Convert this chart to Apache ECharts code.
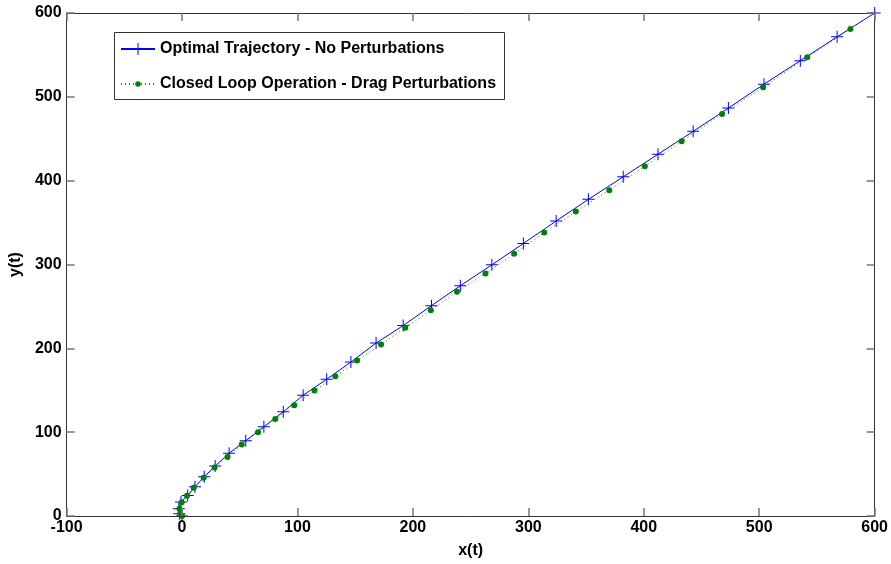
<!DOCTYPE html>
<html><head><meta charset="utf-8">
<script src="https://cdn.jsdelivr.net/npm/echarts@6/dist/echarts.min.js"></script>
<style>html,body{margin:0;padding:0;background:#fff}#c{width:891px;height:564px}</style>
</head><body><div id="c"></div>
<script>
const xTicks = [-100, 0, 100, 200, 300, 400, 500, 600];
const yTicks = [0, 100, 200, 300, 400, 500, 600];
const seriesNames = ['Optimal Trajectory - No Perturbations', 'Closed Loop Operation - Drag Perturbations'];
const blueX = [0,-2.3,-2.8,-0.9,4.9,11.2,19.2,28.7,40.8,55.2,70.9,87.7,104.9,125.3,146.3,168.1,191.6,216.1,241.1,268.4,295.7,324.1,352,382.2,412.3,442.8,473.3,504.1,535.6,567.5,600];
const blueY = [0,2.7,8.7,16.6,24.6,34.8,46.7,59.7,74.8,89.9,106.5,124.3,144.1,163.1,183.7,206.3,227.2,250.9,274.7,299.6,325.1,351.9,377.7,404.6,431.5,458.8,486.6,515.1,543.1,571.6,600];
const greenX = [0,-1.7,-2.3,-0.3,4.3,10.1,18.7,28.2,39.4,51.7,65.8,80.8,97.2,114.7,132.8,151.7,172.4,193.4,215.5,238.2,262.9,287.7,313.8,341.1,370.1,400.9,432.8,467.8,503.4,541.6,579];
const greenY = [0,2.4,8.7,16.3,24.1,33.6,45.5,57.8,70.4,85.2,99.8,115.6,132.2,149.6,166.6,185.6,204.6,224.5,245.5,267.6,289.4,312.7,338.1,363.1,388.7,417.2,446.9,479.5,511.5,547.1,580.8];

const font = 'Liberation Sans, Arial, sans-serif';
const axisLine = {show: true, onZero: false, lineStyle: {color: '#333', width: 1}};
const tickStyle = {show: true, inside: true, length: 8, lineStyle: {color: '#777', width: 1.5}};
const lbl = {color: '#000', fontFamily: font, fontWeight: 'bold', fontSize: 16};
const nameStyle = {color: '#000', fontFamily: font, fontWeight: 'bold', fontSize: 16};
const legendText = {color: '#000', fontFamily: font, fontWeight: 'bold', fontSize: 16};
const plus = 'path://M-0.5,-6 L0.5,-6 L0.5,6 L-0.5,6 Z M-6,-0.5 L6,-0.5 L6,0.5 L-6,0.5 Z';

const chart = echarts.init(document.getElementById('c'), null, {renderer: 'canvas'});
chart.setOption({
  animation: false,
  backgroundColor: '#fff',
  grid: {left: 65, right: 14, top: 13, bottom: 46, containLabel: false},
  graphic: [{
    type: 'rect', left: 114, top: 32, z: 90,
    shape: {width: 390, height: 67},
    style: {fill: '#fff', stroke: '#333', lineWidth: 1}
  }],
  legend: [{
    left: 120, top: 41, padding: 0, itemGap: 0,
    itemWidth: 34, itemHeight: 15,
    textStyle: legendText, data: [seriesNames[0]], z: 100
  }, {
    left: 120, top: 76, padding: 0, itemGap: 0,
    itemWidth: 34, itemHeight: 7,
    textStyle: legendText, data: [seriesNames[1]], z: 100
  }],
  xAxis: [{
    type: 'value', min: xTicks[0], max: xTicks[xTicks.length - 1], interval: 100,
    name: 'x(t)', nameLocation: 'middle', nameGap: 27, nameTextStyle: nameStyle,
    axisLine: axisLine, axisTick: tickStyle, splitLine: {show: false},
    axisLabel: Object.assign({margin: 4}, lbl), z: 10
  }, {
    type: 'value', position: 'top', min: xTicks[0], max: xTicks[xTicks.length - 1], interval: 100,
    axisLine: axisLine, axisTick: tickStyle, splitLine: {show: false}, axisLabel: {show: false}, z: 10
  }],
  yAxis: [{
    type: 'value', min: yTicks[0], max: yTicks[yTicks.length - 1], interval: 100,
    name: 'y(t)', nameLocation: 'middle', nameGap: 36, nameTextStyle: nameStyle,
    axisLine: axisLine, axisTick: tickStyle, splitLine: {show: false},
    axisLabel: Object.assign({margin: 5}, lbl), z: 10
  }, {
    type: 'value', position: 'right', min: yTicks[0], max: yTicks[yTicks.length - 1], interval: 100,
    axisLine: axisLine, axisTick: tickStyle, splitLine: {show: false}, axisLabel: {show: false}, z: 10
  }],
  series: [{
    name: seriesNames[0], type: 'line', xAxisIndex: 0, yAxisIndex: 0,
    data: blueX.map((x, i) => [x, blueY[i]]),
    symbol: plus, symbolSize: 12, showSymbol: true,
    lineStyle: {color: '#0000ff', width: 1},
    itemStyle: {color: '#0000ff'},
    z: 3
  }, {
    name: seriesNames[1], type: 'line', xAxisIndex: 0, yAxisIndex: 0,
    data: greenX.map((x, i) => [x, greenY[i]]),
    symbol: 'circle', symbolSize: 6, showSymbol: true,
    lineStyle: {color: '#00a000', width: 1, type: [1, 3]},
    itemStyle: {color: '#008000'},
    z: 4
  }]
});
</script></body></html>
